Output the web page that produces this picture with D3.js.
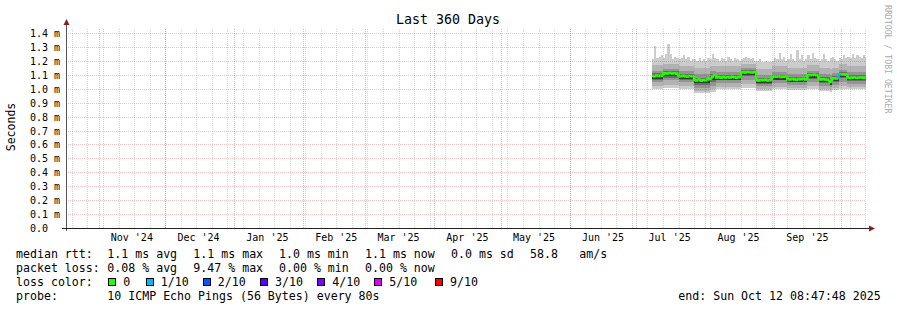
<!DOCTYPE html>
<html>
<head>
<meta charset="utf-8">
<script src="https://cdn.jsdelivr.net/npm/d3@7"></script>
<style>
  body { margin: 0; background: #fff; }
  svg { display: block; font-family: "DejaVu Sans Mono", monospace; }
</style>
</head>
<body>
<svg id="chart" width="897" height="310"></svg>
<script>
// ---- data ----
const TITLE = 'Last 360 Days';
const END = new Date(Date.UTC(2025, 9, 12, 8, 47, 48));
const SPAN_DAYS = 360;
const FIRST_DAY = new Date(Date.UTC(2025, 6, 8));   // first day with samples

const yTickValues = [0, 0.1, 0.2, 0.3, 0.4, 0.5, 0.6, 0.7, 0.8, 0.9, 1.0, 1.1, 1.2, 1.3, 1.4];
const yTickLabels = ['0.0', '0.1 m', '0.2 m', '0.3 m', '0.4 m', '0.5 m', '0.6 m', '0.7 m',
                     '0.8 m', '0.9 m', '1.0 m', '1.1 m', '1.2 m', '1.3 m', '1.4 m'];

// daily median rtt (ms)
const medianMs = [
  1.092, 1.090, 1.094, 1.091, 1.093,
  1.108, 1.111, 1.110, 1.113, 1.109, 1.111, 1.108,
  1.091, 1.089, 1.092, 1.090, 1.088, 1.091, 1.090,
  1.064, 1.060, 1.066, 1.058, 1.063, 1.061, 1.067,
  1.072, 1.088, 1.099,
  1.080, 1.083, 1.079, 1.084, 1.081, 1.082, 1.080, 1.085, 1.082, 1.079, 1.083,
  1.116, 1.119, 1.117, 1.120, 1.118, 1.116, 1.119,
  1.062, 1.060, 1.063, 1.061, 1.064, 1.060, 1.062,
  1.085, 1.087, 1.086, 1.088, 1.084, 1.086, 1.087,
  1.068, 1.066, 1.070, 1.067, 1.065, 1.069, 1.068, 1.071, 1.067,
  1.097, 1.099, 1.098, 1.100, 1.097,
  1.069, 1.067, 1.068, 1.066, 1.063,
  1.050,
  1.073, 1.075, 1.074,
  1.102, 1.104, 1.103, 1.101,
  1.080, 1.078, 1.079, 1.081, 1.077, 1.079, 1.080, 1.078, 1.079
];

// daily highest ping (ms) -> top of the light smoke
const maxMs = [
  1.21, 1.31, 1.22, 1.23, 1.24,
  1.22, 1.25, 1.32, 1.25, 1.21, 1.23, 1.22,
  1.21, 1.22, 1.24, 1.21, 1.23, 1.20, 1.21,
  1.21, 1.20, 1.22, 1.20, 1.21, 1.20, 1.22,
  1.21, 1.25, 1.22,
  1.21, 1.20, 1.22, 1.21, 1.20, 1.23, 1.21, 1.20, 1.22, 1.21, 1.20,
  1.21, 1.22, 1.23, 1.22, 1.21, 1.22, 1.20,
  1.20, 1.21, 1.19, 1.19, 1.20, 1.19, 1.19,
  1.20, 1.22, 1.21, 1.26, 1.21, 1.23, 1.20,
  1.21, 1.25, 1.21, 1.20, 1.28, 1.21, 1.24, 1.20, 1.21,
  1.24, 1.21, 1.26, 1.22, 1.21,
  1.20, 1.21, 1.25, 1.21, 1.20,
  1.22,
  1.23, 1.21, 1.20,
  1.22, 1.21, 1.24, 1.22,
  1.23, 1.22, 1.25, 1.22, 1.24, 1.23, 1.22, 1.24, 1.23
];

// daily lost pings (of 10)
const lossCount = [
  0,0,0,0,0, 0,0,0,0,0,0,0, 0,0,0,0,0,0,0, 0,0,0,0,0,0,0, 0,0,0,
  0,0,0,0,0,0,0,0,0,0,0, 0,0,0,0,0,0,0, 0,0,0,0,0,0,0, 0,0,0,0,0,0,0,
  0,0,0,0,0,0,0,0,0, 0,0,0,0,0, 0,0,0,0,0, 0, 0,0,0, 1,0,0,0,
  0,0,0,0,0,0,0,0,0
];

// smoke bands per stretch (start day index, then ping spread in ms)
const segStart = [0, 5, 12, 19, 26, 29, 40, 47, 54, 61, 70, 75, 80, 81, 84, 88];
const segLo    = [1.000, 1.005, 0.998, 0.968, 0.975, 0.995, 1.005, 0.985, 0.995, 0.990, 1.000, 0.985, 0.975, 0.990, 1.000, 0.995];
const segB2lo  = [1.020, 1.030, 1.020, 0.985, 0.995, 1.015, 1.035, 1.000, 1.015, 1.005, 1.020, 1.000, 0.990, 1.005, 1.020, 1.010];
const segB2hi  = [1.170, 1.180, 1.165, 1.150, 1.165, 1.160, 1.180, 1.140, 1.160, 1.150, 1.170, 1.150, 1.140, 1.150, 1.175, 1.165];
const segB3lo  = [1.045, 1.060, 1.045, 1.005, 1.020, 1.040, 1.065, 1.020, 1.040, 1.025, 1.045, 1.020, 1.010, 1.025, 1.050, 1.035];
const segB3hi  = [1.130, 1.145, 1.125, 1.105, 1.125, 1.120, 1.150, 1.100, 1.120, 1.105, 1.130, 1.105, 1.095, 1.110, 1.135, 1.120];
const segB4lo  = [1.065, 1.080, 1.065, 1.025, 1.045, 1.060, 1.090, 1.035, 1.060, 1.045, 1.070, 1.040, 1.025, 1.045, 1.075, 1.055];
const segB4hi  = [1.110, 1.125, 1.105, 1.080, 1.105, 1.100, 1.132, 1.080, 1.100, 1.085, 1.112, 1.085, 1.070, 1.090, 1.118, 1.097];
const segB5lo  = [1.072, 1.090, 1.070, 1.042, 1.066, 1.062, 1.098, 1.042, 1.066, 1.048, 1.078, 1.047, 1.030, 1.054, 1.083, 1.059];
const segB5hi  = [1.096, 1.114, 1.094, 1.066, 1.090, 1.086, 1.122, 1.066, 1.090, 1.072, 1.102, 1.071, 1.054, 1.078, 1.107, 1.083];

const lossLabels = ['0', '1/10', '2/10', '3/10', '4/10', '5/10', '9/10'];
const lossColors = ['#26ff00', '#00b8ff', '#0059ff', '#5e00ff', '#7e00ff', '#dd00ff', '#ff0000'];

const legendRtt  = ['1.1 ms avg', '1.1 ms max', '1.0 ms min', '1.1 ms now', '0.0 ms sd', '58.8', 'am/s'];
const legendLoss = ['0.08 % avg', '9.47 % max', '0.00 % min', '0.00 % now'];
const probeText  = '10 ICMP Echo Pings (56 Bytes) every 80s';
const endText    = 'end: Sun Oct 12 08:47:48 2025';

// ---- layout ----
const svg = d3.select('#chart');
const plotL = 66, plotR = 866, plotB = 228, plotT = 33;
const start = d3.utcDay.offset(END, -SPAN_DAYS);

const x = d3.scaleUtc().domain([start, END]).range([plotL, plotR]);
const y = d3.scaleLinear().domain([0, 1.4]).range([plotB, plotT]);
const px = v => Math.round(v) + 0.5;

const dayDate = i => d3.utcDay.offset(FIRST_DAY, i);
const segOf = i => d3.bisectRight(segStart, i) - 1;

// ---- smoke ----
const smoke = svg.append('g').attr('shape-rendering', 'crispEdges');
const stepArea = d3.area().curve(d3.curveStepAfter)
  .x(d => x(d.t)).y0(d => y(d.lo)).y1(d => y(d.hi));

// outer light band, daily
const outer = medianMs.map((m, i) => ({ t: dayDate(i), lo: segLo[segOf(i)], hi: maxMs[i] }));
outer.push({ t: END, lo: outer[outer.length - 1].lo, hi: outer[outer.length - 1].hi });
smoke.append('path').attr('d', stepArea(outer)).attr('fill', '#cccccc');

const bands = [
  { lo: segB2lo, hi: segB2hi, color: '#b2b2b2' },
  { lo: segB3lo, hi: segB3hi, color: '#949494' },
  { lo: segB4lo, hi: segB4hi, color: '#6c6c6c' },
  { lo: segB5lo, hi: segB5hi, color: '#3a3a3a' }
];
bands.forEach(b => {
  const pts = segStart.map((s, i) => ({ t: dayDate(s), lo: b.lo[i], hi: b.hi[i] }));
  pts.push({ t: END, lo: b.lo[b.lo.length - 1], hi: b.hi[b.hi.length - 1] });
  smoke.append('path').attr('d', stepArea(pts)).attr('fill', b.color);
});

// median, coloured by loss
const med = svg.append('g');
medianMs.forEach((m, i) => {
  const xa = x(dayDate(i));
  const xb = i < medianMs.length - 1 ? x(dayDate(i + 1)) : x(END);
  const prev = i > 0 ? medianMs[i - 1] : m;
  med.append('path')
    .attr('d', `M${xa},${y(prev)}V${y(m)}H${xb}`)
    .attr('fill', 'none')
    .attr('stroke', lossColors[lossCount[i]])
    .attr('stroke-width', 2.6);
});

// ---- grid ----
const grid = svg.append('g').attr('shape-rendering', 'crispEdges');
d3.utcSunday.range(start, END).forEach(d => {
  grid.append('line')
    .attr('x1', px(x(d))).attr('x2', px(x(d)))
    .attr('y1', plotB).attr('y2', plotT - 5)
    .attr('stroke', 'rgba(140,140,140,0.35)').attr('stroke-dasharray', '1,1');
});
yTickValues.slice(1).forEach(v => {
  grid.append('line')
    .attr('x1', plotL).attr('x2', plotR)
    .attr('y1', px(y(v))).attr('y2', px(y(v)))
    .attr('stroke', 'rgba(225,60,60,0.32)').attr('stroke-dasharray', '1,1');
});
const months = d3.utcMonth.range(start, END);
months.forEach(d => {
  grid.append('line')
    .attr('x1', px(x(d))).attr('x2', px(x(d)))
    .attr('y1', plotB).attr('y2', plotT - 5)
    .attr('stroke', 'rgba(240,50,50,0.38)').attr('stroke-dasharray', '1,1');
});

// ---- axes ----
const axes = svg.append('g').attr('shape-rendering', 'crispEdges');
axes.append('line').attr('x1', px(plotL)).attr('x2', px(plotL))
  .attr('y1', plotB + 3).attr('y2', 24).attr('stroke', '#555');
axes.append('line').attr('x1', 62).attr('x2', 870)
  .attr('y1', px(plotB)).attr('y2', px(plotB)).attr('stroke', '#222');
svg.append('path').attr('d', `M${plotL - 2.5},25 L${plotL + 3.5},25 L${plotL + 0.5},19 Z`).attr('fill', '#8b1e1e');
svg.append('path').attr('d', `M869,${plotB - 2.5} L869,${plotB + 3.5} L875,${plotB + 0.5} Z`).attr('fill', '#8b1e1e');

// y tick labels
yTickValues.forEach((v, i) => {
  svg.append('text')
    .attr('x', v === 0 ? 48 : 60).attr('y', y(v) + 4)
    .attr('text-anchor', 'end').attr('font-size', 10).attr('fill', '#000')
    .text(yTickLabels[i]);
});

// month labels, centred half a month after the month start
const fmt = d3.utcFormat("%b '%y");
months.concat([d3.utcMonth.floor(start)]).forEach(d => {
  const c = d3.utcDay.offset(d, 15);
  if (c < start || c > END) return;
  svg.append('text')
    .attr('x', x(c)).attr('y', 241)
    .attr('text-anchor', 'middle').attr('font-size', 10).attr('fill', '#000')
    .text(fmt(d));
});

// title and side labels
svg.append('text').attr('x', 448).attr('y', 24).attr('text-anchor', 'middle')
  .attr('font-size', 13.3).attr('fill', '#000').text(TITLE);
svg.append('text').attr('transform', 'translate(15,127) rotate(-90)')
  .attr('text-anchor', 'middle').attr('font-size', 11.5).attr('fill', '#000').text('Seconds');
svg.append('text').attr('transform', 'translate(885,5) rotate(90)')
  .attr('font-size', 8.2).attr('fill', '#aaaaaa').text('RRDTOOL / TOBI OETIKER');

// ---- legend ----
const lg = svg.append('g').attr('font-size', 11.6).attr('fill', '#000');
const col = [107.3, 193.3, 279, 365, 451, 530, 579.3];
lg.append('text').attr('x', 16).attr('y', 258).text('median rtt:');
legendRtt.forEach((t, i) => lg.append('text').attr('x', col[i]).attr('y', 258).text(t));
lg.append('text').attr('x', 16).attr('y', 272).text('packet loss:');
legendLoss.forEach((t, i) => lg.append('text').attr('x', col[i]).attr('y', 272).text(t));
lg.append('text').attr('x', 16).attr('y', 286).text('loss color:');
const boxX = [108.3, 145.7, 202.7, 260, 317.3, 374.3, 435];
lossLabels.forEach((t, i) => {
  lg.append('rect').attr('x', boxX[i] + 0.5).attr('y', 278.5).attr('width', 7).attr('height', 7)
    .attr('fill', lossColors[i]).attr('stroke', '#000').attr('stroke-width', 1)
    .attr('shape-rendering', 'crispEdges');
  lg.append('text').attr('x', boxX[i] + 15).attr('y', 286).text(t);
});
lg.append('text').attr('x', 16).attr('y', 300).text('probe:');
lg.append('text').attr('x', 107.3).attr('y', 300).text(probeText);
lg.append('text').attr('x', 678.3).attr('y', 300).text(endText);
</script>
</body>
</html>
